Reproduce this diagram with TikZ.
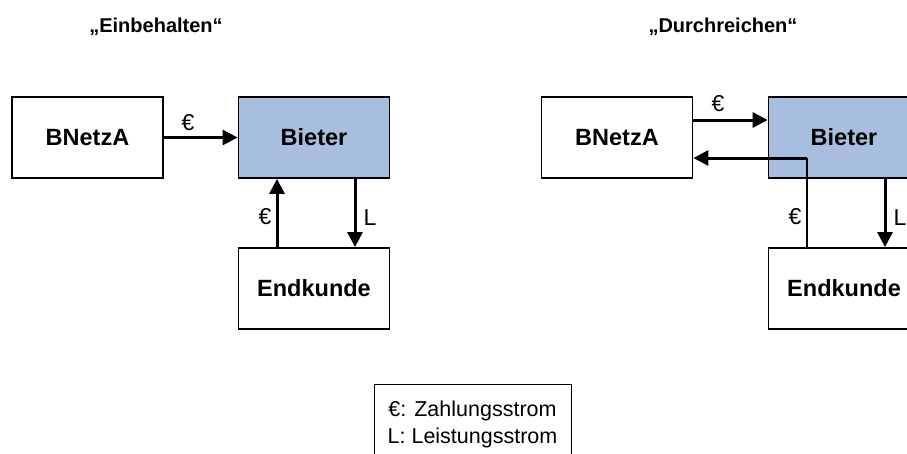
\documentclass[tikz,border=0pt]{standalone}
\usepackage{fontspec}
\setmainfont{Liberation Sans}
\usetikzlibrary{arrows.meta}
\definecolor{bieterblue}{RGB}{168,190,222}
\begin{document}
\begin{tikzpicture}[x=1pt,y=-1pt,
  box/.style={draw, line width=1.8pt, minimum width=151pt, minimum height=81pt, inner sep=0pt, font=\fontsize{23.5}{27}\selectfont\bfseries},
  flow/.style={line width=3pt, -{Triangle[length=15pt,width=15pt]}},
  thinflow/.style={line width=1.1pt},
  lbl/.style={font=\fontsize{23}{27}\selectfont, inner sep=0pt},
  ttl/.style={font=\fontsize{20}{24}\selectfont\bfseries, inner sep=0pt},
  legend/.style={font=\fontsize{21.5}{27}\selectfont, inner sep=0pt, align=center}]
\useasboundingbox (0,0) rectangle (907,453);
\clip (0,0) rectangle (907,453);

% titles
\node[ttl] (t1) at (156,27) {„Einbehalten“};
\node[ttl] (t2) at (723,27) {„Durchreichen“};

% left diagram
\node[box] (lA) at (87.5,137.5) {BNetzA};
\node[box, fill=bieterblue] (lB) at (314,137.5) {Bieter};
\node[box] (lE) at (314,288.5) {Endkunde};
\coordinate (lup) at (277,0);
\coordinate (ldn) at (355,0);
\draw[flow] (lA.east) -- (lB.west);
\draw[flow] (lE.north -| lup) -- (lB.south -| lup);
\draw[flow] (lB.south -| ldn) -- (lE.north -| ldn);
\node[lbl] (le1) at (188,123) {€};
\node[lbl] (le2) at (265,217) {€};
\node[lbl] (lL) at (370,218) {L};

% right diagram
\node[box] (rA) at (617,137.5) {BNetzA};
\node[box, fill=bieterblue] (rB) at (844,137.5) {Bieter};
\node[box] (rE) at (844,288.5) {Endkunde};
\coordinate (rtop) at (0,120);
\coordinate (rret) at (807,158);
\coordinate (rdn) at (885,0);
\draw[flow] (rA.east |- rtop) -- (rB.west |- rtop);
\draw[thinflow] (rE.north -| rret) -- (rret);
\draw[flow] (rret) -- (rA.east |- rret);
\draw[flow] (rB.south -| rdn) -- (rE.north -| rdn);
\node[lbl] (re1) at (718,104) {€};
\node[lbl] (re2) at (795,217) {€};
\node[lbl] (rL) at (900,218) {L};

% legend
\draw[line width=1pt] (374,470) -- (374,384) -- (571,384) -- (571,470);
\node[legend] (leg) at (472.5,424) {€: Zahlungsstrom\\L: Leistungsstrom};
\end{tikzpicture}
\end{document}
